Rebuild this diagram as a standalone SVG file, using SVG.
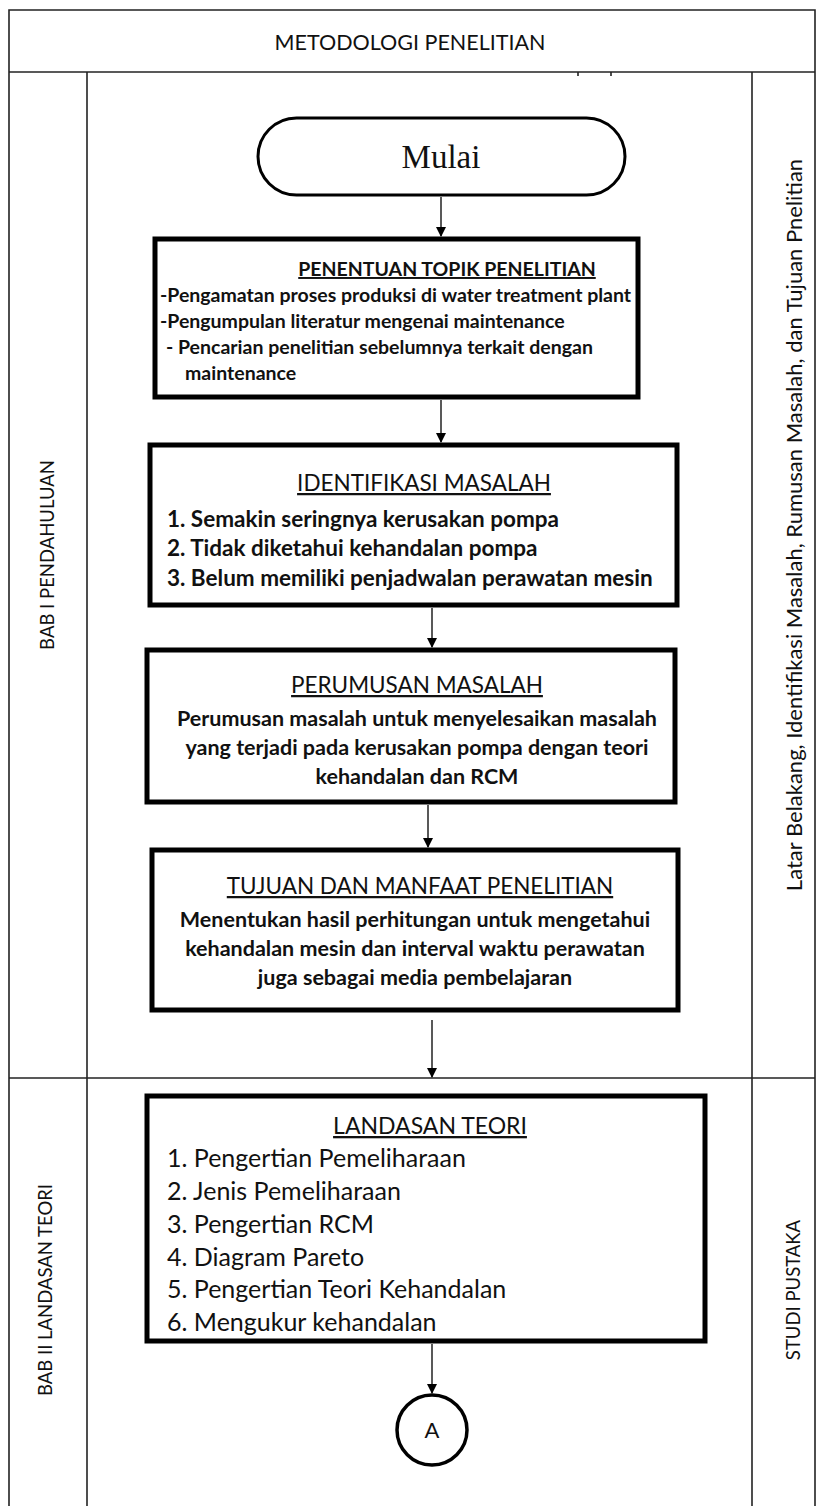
<svg xmlns="http://www.w3.org/2000/svg" width="819" height="1506" viewBox="0 0 819 1506">
<style>
.frame{fill:none;stroke:#222;stroke-width:1.6}
.box{fill:#fff;stroke:#000;stroke-width:5}
.conn{stroke:#222;stroke-width:1.5;fill:none}
.t{font-family:Lato,"Liberation Sans",sans-serif;fill:#111}
.b{font-weight:bold}
.c{text-anchor:middle}
.u{text-decoration:underline}
</style>
<defs>
<marker id="ah" markerWidth="10" markerHeight="10" refX="9" refY="5" orient="auto" markerUnits="userSpaceOnUse">
<path d="M0,0 L10,5 L0,10 z" fill="#000"/>
</marker>
</defs>
<rect width="819" height="1506" fill="#fff"/>
<g id="frame">
<path class="frame" d="M9,1506 V10 H815 V1506"/>
<line class="frame" x1="9" y1="72" x2="815" y2="72"/>
<line class="frame" x1="87" y1="72" x2="87" y2="1506"/>
<line class="frame" x1="752" y1="72" x2="752" y2="1506"/>
<line class="frame" x1="9" y1="1078" x2="815" y2="1078"/>
<line class="frame" x1="578" y1="72" x2="578" y2="76"/>
<line class="frame" x1="611" y1="72" x2="611" y2="76"/>
<text class="t c" x="410" y="50" font-size="21.5">METODOLOGI PENELITIAN</text>
<text class="t c" transform="translate(54,555) rotate(-90)" font-size="18.5">BAB I PENDAHULUAN</text>
<text class="t c" transform="translate(52,1290) rotate(-90)" font-size="18.5">BAB II LANDASAN TEORI</text>
<text class="t c" transform="translate(800,1290) rotate(-90)" font-size="18.5">STUDI PUSTAKA</text>
<text class="t c" transform="translate(802,525) rotate(-90)" font-size="22">Latar Belakang, Identifikasi Masalah, Rumusan Masalah, dan Tujuan Pnelitian</text>
</g>
<g id="connectors">
<line class="conn" x1="441" y1="197" x2="441" y2="236" marker-end="url(#ah)"/>
<line class="conn" x1="441" y1="400" x2="441" y2="442" marker-end="url(#ah)"/>
<line class="conn" x1="432" y1="608" x2="432" y2="647" marker-end="url(#ah)"/>
<line class="conn" x1="428" y1="805" x2="428" y2="847" marker-end="url(#ah)"/>
<line class="conn" x1="432" y1="1020" x2="432" y2="1077" marker-end="url(#ah)"/>
<line class="conn" x1="432" y1="1344" x2="432" y2="1393" marker-end="url(#ah)"/>
</g>
<g id="mulai">
<rect x="258" y="118" width="367" height="77" rx="38.5" fill="#fff" stroke="#000" stroke-width="3"/>
<text x="441" y="168" text-anchor="middle" font-family="Liberation Serif,serif" font-size="33" fill="#111">Mulai</text>
</g>
<g id="penentuan">
<rect class="box" x="155" y="239" width="483" height="158"/>
<text class="t b c u" x="447" y="276" font-size="19.5">PENENTUAN TOPIK PENELITIAN</text>
<text class="t b" x="160" y="302" font-size="19.5">-Pengamatan proses produksi di water treatment plant</text>
<text class="t b" x="160" y="328" font-size="19.5">-Pengumpulan literatur mengenai maintenance</text>
<text class="t b" x="166" y="354" font-size="19.5">-  Pencarian penelitian sebelumnya terkait dengan</text>
<text class="t b" x="185" y="380" font-size="19.5">maintenance</text>
</g>
<g id="identifikasi">
<rect class="box" x="150" y="445" width="527" height="160"/>
<text class="t c u" x="424" y="491" font-size="22.5">IDENTIFIKASI MASALAH</text>
<text class="t b" x="167" y="527" font-size="22.5">1. Semakin seringnya kerusakan pompa</text>
<text class="t b" x="167" y="556" font-size="22.5">2. Tidak diketahui kehandalan pompa</text>
<text class="t b" x="167" y="586" font-size="22.5">3. Belum memiliki penjadwalan perawatan mesin</text>
</g>
<g id="perumusan">
<rect class="box" x="147" y="650" width="528" height="152"/>
<text class="t c u" x="417" y="693" font-size="22.5">PERUMUSAN MASALAH</text>
<text class="t b c" x="417" y="726" font-size="21.5">Perumusan masalah untuk menyelesaikan masalah</text>
<text class="t b c" x="417" y="755" font-size="21.5">yang terjadi pada kerusakan pompa dengan teori</text>
<text class="t b c" x="417" y="784" font-size="21.5">kehandalan dan RCM</text>
</g>
<g id="tujuan">
<rect class="box" x="152" y="850" width="526" height="160"/>
<text class="t c u" x="420" y="894" font-size="22.5">TUJUAN DAN MANFAAT PENELITIAN</text>
<text class="t b c" x="415" y="927" font-size="21.5">Menentukan hasil perhitungan untuk mengetahui</text>
<text class="t b c" x="415" y="956" font-size="21.5">kehandalan mesin dan interval waktu perawatan</text>
<text class="t b c" x="415" y="985" font-size="21.5">juga sebagai media pembelajaran</text>
</g>
<g id="landasan">
<rect class="box" x="147" y="1096" width="558" height="245"/>
<text class="t c u" x="430" y="1134" font-size="23">LANDASAN TEORI</text>
<text class="t" x="167" y="1167" font-size="25">1. Pengertian Pemeliharaan</text>
<text class="t" x="167" y="1200" font-size="25">2. Jenis Pemeliharaan</text>
<text class="t" x="167" y="1233" font-size="25">3. Pengertian RCM</text>
<text class="t" x="167" y="1266" font-size="25">4. Diagram Pareto</text>
<text class="t" x="167" y="1298" font-size="25">5. Pengertian Teori Kehandalan</text>
<text class="t" x="167" y="1331" font-size="25">6. Mengukur kehandalan</text>
</g>
<g id="connector-a">
<circle cx="432" cy="1430" r="35" fill="#fff" stroke="#000" stroke-width="3.5"/>
<text class="t c" x="432" y="1438" font-size="22">A</text>
</g>
</svg>
